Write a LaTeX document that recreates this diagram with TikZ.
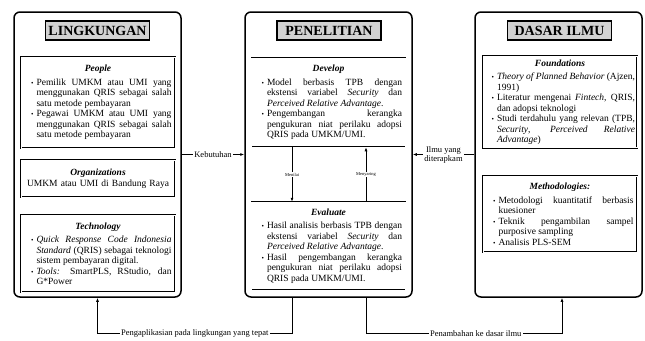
\documentclass[tikz,border=0pt]{standalone}
\usepackage{fontspec}
\setmainfont{Liberation Serif}
\usepackage{enumitem}
\usetikzlibrary{arrows.meta}
\setlist[itemize]{nosep,leftmargin=12pt,labelsep=3pt,label={\scriptsize\textbullet}}
\newcommand{\judulisi}[1]{\centerline{\textbf{\textit{#1}}}\vspace{3pt}}

\begin{document}
\begin{tikzpicture}[x=1pt, y=-1pt,
    luar/.style={draw, line width=1.5pt, rounded corners=6pt, minimum width=167pt, minimum height=285pt},
    kepala/.style={draw, line width=1.2pt, fill=gray!35, minimum width=104pt, minimum height=19pt, font=\fontsize{14}{15}\selectfont\bfseries},
    isi/.style={draw, double, double distance=0.9pt, line width=0.5pt, text width=147pt, inner xsep=3.5pt, align=justify,
        font=\fontsize{9.5}{10.5}\selectfont, execute at begin node={\hyphenpenalty=10000\exhyphenpenalty=10000}},
    lbl/.style={fill=white, inner sep=1.5pt, font=\fontsize{8.5}{9}\selectfont},
    kecil/.style={fill=white, inner sep=1pt, font=\fontsize{4.5}{5}\selectfont},
    arr/.style={-{Latex[length=4pt,width=3pt]}, line width=0.8pt}]
    \useasboundingbox (0,0) rectangle (645,340);
    % kotak luar
    \node[luar] at (97.5,154.5) (Ling) {};
    \node[luar] at (328.5,154.5) (Pen) {};
    \node[luar] at (558.5,154.5) (Dasar) {};
    % judul
    \node[kepala] at (97.5,30.5) (LingT) {LINGKUNGAN};
    \node[kepala] at (329,30.5) (PenT) {PENELITIAN};
    \node[kepala] at (559.5,30.5) (DasarT) {DASAR ILMU};
    % lingkungan
    \node[isi, minimum height=91pt] at (98,102.5) (People) {\judulisi{People}
        \begin{itemize}
        \item Pemilik UMKM atau UMI yang menggunakan QRIS sebagai salah satu metode pembayaran
        \item Pegawai UMKM atau UMI yang menggunakan QRIS sebagai salah satu metode pembayaran
        \end{itemize}};
    \node[isi, minimum height=37pt, align=center] at (98,178.5) (Orga) {\textbf{\textit{Organizations}}\\ UMKM atau UMI di Bandung Raya};
    \node[isi, minimum height=77pt] at (98,253.5) (Tech) {\judulisi{Technology}
        \begin{itemize}
        \item \textit{Quick Response Code Indonesia Standard} (QRIS) sebagai teknologi sistem pembayaran digital.
        \item \textit{Tools:} SmartPLS, RStudio, dan G*Power
        \end{itemize}};
    % penelitian
    \node[isi, minimum height=89pt] at (328.5,102.5) (Develop) {\judulisi{Develop}
        \begin{itemize}
        \item Model berbasis TPB dengan ekstensi variabel \textit{Security} dan \textit{Perceived Relative Advantage}.
        \item Pengembangan kerangka pengukuran niat perilaku adopsi QRIS pada UMKM/UMI.
        \end{itemize}};
    \node[isi, minimum height=88pt] at (328.5,246) (Evaluate) {\judulisi{Evaluate}
        \begin{itemize}
        \item Hasil analisis berbasis TPB dengan ekstensi variabel \textit{Security} dan \textit{Perceived Relative Advantage}.
        \item Hasil pengembangan kerangka pengukuran niat perilaku adopsi QRIS pada UMKM/UMI.
        \end{itemize}};
    % dasar ilmu
    \node[isi, minimum height=90pt, text width=150pt, inner xsep=2pt] at (560,102) (Found) {\spaceskip=.25em plus .2em minus .12em
        \judulisi{Foundations}
        \begin{itemize}
        \item \textit{Theory of Planned Behavior} (Ajzen, 1991)
        \item Literatur mengenai \textit{Fintech}, QRIS, dan adopsi teknologi
        \item Studi terdahulu yang relevan (TPB,\linebreak \textit{Security}, \textit{Perceived Relative Advantage})
        \end{itemize}};
    \node[isi, minimum height=76pt] at (560,214) (Metode) {\judulisi{Methodologies:}
        \begin{itemize}
        \item Metodologi kuantitatif berbasis kuesioner
        \item Teknik pengambilan sampel purposive sampling
        \item Analisis PLS-SEM
        \end{itemize}};
    % penghubung
    \coordinate (xa) at (292,0);
    \coordinate (xb) at (366,0);
    \path (Ling.south) ++(0,36) coordinate (kiri);
    \path (Dasar.south) ++(3.5,36) coordinate (kanan);
    \draw[arr] (Develop.south -| xa) -- node[kecil] {Menilai} (Evaluate.north -| xa);
    \draw[arr] (Evaluate.north -| xb) -- node[kecil] {Menyaring} (Develop.south -| xb);
    \draw[arr] (Ling.east) -- node[lbl] {Kebutuhan} (Pen.west);
    \draw[arr] (Dasar.west) -- node[lbl, align=center] {Ilmu yang\\diterapkam} (Pen.east);
    \draw[arr] (Pen.south -| xa) |- node[lbl, pos=0.75] {Pengaplikasian pada lingkungan yang tepat} (kiri) -- (Ling.south);
    \draw[arr] (Pen.south -| xb) |- node[lbl, pos=0.78] {Penambahan ke dasar ilmu} (kanan) -- (kanan |- Dasar.south);
\end{tikzpicture}
\end{document}
